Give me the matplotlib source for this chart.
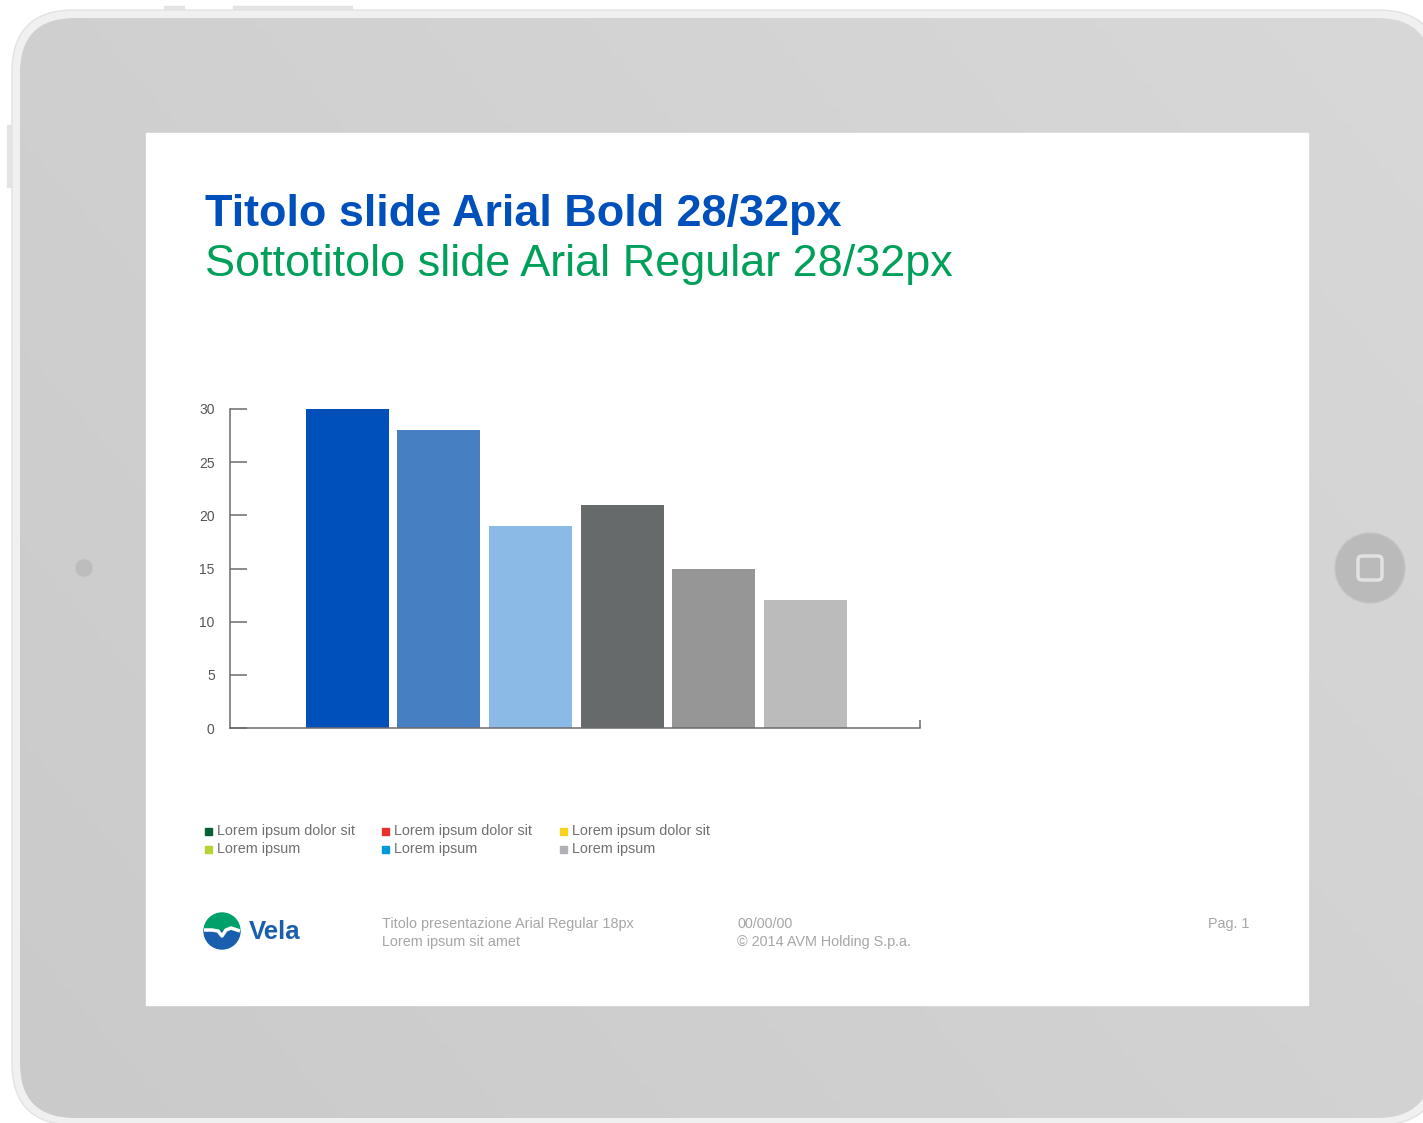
import matplotlib.pyplot as plt
import numpy as np
from matplotlib.patches import FancyBboxPatch, Rectangle, Circle, Wedge

plt.rcParams['font.family'] = ['Liberation Sans', 'DejaVu Sans']

W, H = 1423, 1123

# data
categories = ['A', 'B', 'C', 'D', 'E', 'F']
values = [30, 28, 19, 21, 15, 12]
bar_colors = ['#0050bb', '#4680c2', '#8abae5', '#676a6a', '#959695', '#bbbbbb']
y_ticks = [0, 5, 10, 15, 20, 25, 30]

legend_labels = ['Lorem ipsum dolor sit', 'Lorem ipsum dolor sit', 'Lorem ipsum dolor sit',
                 'Lorem ipsum', 'Lorem ipsum', 'Lorem ipsum']
legend_colors = ['#0b5e35', '#e8312b', '#f5d320', '#b5d334', '#0099d8', '#b3b0b5']

title = 'Titolo slide Arial Bold 28/32px'
subtitle = 'Sottotitolo slide Arial Regular 28/32px'
footer_left = ['Titolo presentazione Arial Regular 18px', 'Lorem ipsum sit amet']
footer_mid = ['00/00/00', '\u00a9 2014 AVM Holding S.p.a.']
footer_page = 'Pag. 1'

fig = plt.figure(figsize=(W / 100, H / 100), dpi=100)

# background: tablet frame, drawn in pixel coords
bg = fig.add_axes([0, 0, 1, 1], zorder=-1)
bg.set_xlim(0, W)
bg.set_ylim(H, 0)
bg.axis('off')

# side buttons
bg.add_patch(Rectangle((164, 6), 20, 6, color='#e4e4e4'))
bg.add_patch(Rectangle((233, 6), 119, 6, color='#e4e4e4'))
bg.add_patch(Rectangle((7, 125), 6, 62, color='#e4e4e4'))

rim = FancyBboxPatch((12 + 62, 10 + 62), 1440 - 12 - 124, 1125 - 10 - 124,
                     boxstyle='round,pad=62', fc='#f0f0f0', ec='#e2e2e2', lw=1)
bg.add_patch(rim)
inner = FancyBboxPatch((20 + 55, 18 + 55), 1432 - 20 - 110, 1118 - 18 - 110,
                       boxstyle='round,pad=55', fc='none', ec='none')
bg.add_patch(inner)
gx, gy = np.meshgrid(np.linspace(0, 1, 200), np.linspace(0, 1, 200))
grad = 0.6 * gx + 0.4 * (1 - gy)
img = bg.imshow(grad, extent=(0, W, H, 0), cmap=plt.matplotlib.colors.LinearSegmentedColormap.from_list(
    'g', ['#cacaca', '#d8d8d8']), aspect='auto', zorder=1)
img.set_clip_path(inner)

# camera dot and home button
bg.add_patch(Circle((84, 568), 8, color='#bdbdbd', zorder=2))
bg.add_patch(Circle((1370, 568), 35, fc='#bababa', ec='#c4c4c4', lw=1, zorder=2))
bg.add_patch(FancyBboxPatch((1362, 560), 16, 16, boxstyle='round,pad=4',
                            fc='none', ec='#e2e2e2', lw=2.5, zorder=3))

# screen
bg.add_patch(Rectangle((146, 133), 1162, 872, color='white', zorder=2))

# titles
bg.text(205, 226, title, fontsize=32.4, fontweight='bold', color='#0050bb', va='baseline', zorder=3)
bg.text(205, 276, subtitle, fontsize=32.4, color='#00a05a', va='baseline', zorder=3)

# legend (3 columns x 2 rows)
col_x = [205, 382, 560]
row_y = [831, 849]
for i, (lab, col) in enumerate(zip(legend_labels, legend_colors)):
    x = col_x[i % 3]
    y = row_y[i // 3]
    bg.add_patch(Rectangle((x, y - 3), 7, 7, color=col, zorder=3))
    bg.text(x + 12, y, lab, fontsize=10.4, color='#707070', va='center', zorder=3)

# footer
bg.add_patch(Wedge((222, 931), 18, 180, 360, color='#00a06a', zorder=3))
bg.add_patch(Wedge((222, 931), 18, 0, 180, color='#1a5fad', zorder=3))
wave_x = np.array([204, 212, 218, 222, 226, 231, 240])
wave_y = np.array([930, 930, 931, 936, 930, 928, 931])
bg.plot(wave_x, wave_y, color='white', lw=2.5, zorder=4, solid_capstyle='butt')
bg.text(249, 932, 'Vela', fontsize=18.5, fontweight='bold', color='#1a5fad', va='center', zorder=3)

for j, line in enumerate(footer_left):
    bg.text(382, 924 + 18 * j, line, fontsize=10.4, color='#a6a6a6', va='center', zorder=3)
for j, line in enumerate(footer_mid):
    bg.text(737, 924 + 18 * j, line, fontsize=10.4, color='#a6a6a6', va='center', zorder=3)
bg.text(1250, 924, footer_page, fontsize=10.4, color='#a6a6a6', va='center', ha='right', zorder=3)

# bar chart
ax_l, ax_r, ax_t, ax_b = 230, 920, 409, 728
ax = fig.add_axes([ax_l / W, 1 - ax_b / H, (ax_r - ax_l) / W, (ax_b - ax_t) / H])
ax.patch.set_alpha(0)
x = np.arange(len(categories))
ax.bar(x, values, width=0.906, color=bar_colors, zorder=1)
ax.set_xlim(-1.28, 6.25)
ax.set_ylim(0, 30)
ax.set_yticks(y_ticks)
ax.set_xticks([6.25])
ax.set_xticklabels([])
ax.tick_params(axis='y', direction='in', length=12.5, width=1.1, color='#6e6a6e',
               labelsize=10, labelcolor='#555555', pad=11)
ax.tick_params(axis='x', direction='in', length=6, width=1.1, color='#6e6a6e')
for s in ['top', 'right']:
    ax.spines[s].set_visible(False)
for s in ['left', 'bottom']:
    ax.spines[s].set_color('#6e6a6e')
    ax.spines[s].set_linewidth(1.1)

fig.savefig('out.png', dpi=100)
